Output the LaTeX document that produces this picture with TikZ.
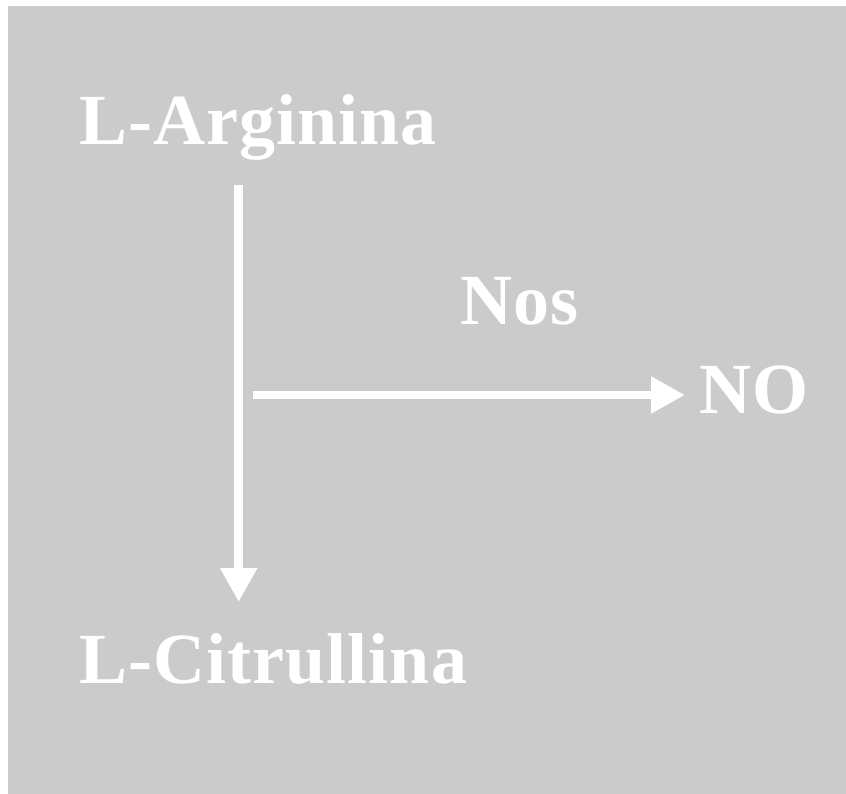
\documentclass[tikz,border=0pt]{standalone}
\usepackage{fontspec}
\setmainfont{Liberation Serif}
\newfontfamily\labelfont[LetterSpace=1.5]{Liberation Serif}
\usetikzlibrary{arrows.meta}
\definecolor{panel}{HTML}{CBCBCB}
\tikzset{
  label text/.style={text=white, font=\labelfont\fontsize{72}{80}\selectfont\bfseries, inner sep=0pt, anchor=base west},
  flow/.style={draw=white, line width=8.5pt, -{Triangle[length=34pt,width=35pt]}}
}
\begin{document}
\begin{tikzpicture}[x=1pt, y=-1pt]
  % page and grey panel
  \useasboundingbox (0,0) rectangle (846,794);
  \fill[white] (0,0) rectangle (846,794);
  \fill[panel] (8,6) rectangle (846,794);
  % labels
  \node[label text] (arg) at (79,145) {L-Arginina};
  \node[label text] (cit) at (79,683) {L-Citrullina};
  \node[label text] (nos) at (460,325) {Nos};
  \node[label text] (no) at (699,413) {NO};
  % reaction arrows
  \coordinate (top) at (238.7,185);
  \coordinate (bottom) at (238.7,602);
  \coordinate (branch) at (253,395);
  \coordinate (tip) at (685,395);
  \draw[flow] (top) -- (bottom);
  \draw[flow] (branch) -- (tip);
\end{tikzpicture}
\end{document}
